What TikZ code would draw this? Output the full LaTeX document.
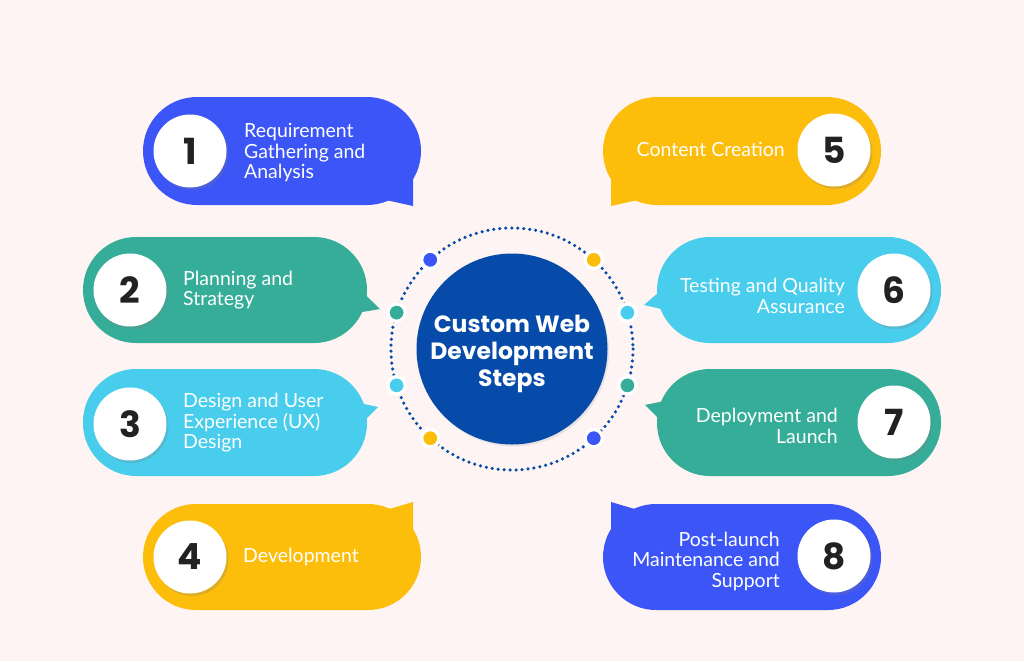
\documentclass[tikz,border=0pt]{standalone}
\usepackage{fontspec}
\setmainfont{Lato}
\newfontfamily\numfont{Poppins}
\usetikzlibrary{shadows,calc}
\definecolor{bgpink}{HTML}{FDF4F3}
\definecolor{stepblue}{HTML}{3B55F6}
\definecolor{stepgreen}{HTML}{35AD99}
\definecolor{stepcyan}{HTML}{48CDEC}
\definecolor{stepyellow}{HTML}{FDBD0B}
\definecolor{centreblue}{HTML}{064BA9}
\definecolor{numcol}{HTML}{222222}
\begin{document}
\begin{tikzpicture}[x=1pt, y=-1pt,
    numcirc/.style={circle, fill=white, minimum size=73pt, inner sep=0pt,
      drop shadow={shadow xshift=2pt, shadow yshift=-2.5pt, opacity=0.25},
      font=\numfont\bfseries\fontsize{36}{36}\selectfont, text=numcol},
    steptext/.style={inner sep=0pt, text=white, font=\fontsize{19.5}{20.5}\selectfont},
    ringdot/.style={circle, fill=#1, draw=white, line width=3.5pt, minimum size=17.5pt,
      inner sep=0pt, drop shadow={shadow xshift=1pt, shadow yshift=-1.5pt, opacity=0.2}}]
    \fill[bgpink] (0,0) rectangle (1024,661);
    % left bubbles
    \fill[stepblue, rounded corners=54] (143,97) rectangle (421,205);
    \fill[stepblue] (413,172) -- (413,206) -- (386,200) -- cycle;
    \fill[stepgreen, rounded corners=53] (83,237) rectangle (367,343);
    \fill[stepgreen] (345,275) -- (380,309) -- (350,314) -- cycle;
    \fill[stepcyan, rounded corners=53] (83,369) rectangle (367,476);
    \fill[stepcyan] (350,401) -- (378,407) -- (345,440) -- cycle;
    \fill[stepyellow, rounded corners=53] (143,504) rectangle (421,610);
    \fill[stepyellow] (413,540) -- (413,502) -- (386,510) -- cycle;
    % right bubbles
    \fill[stepyellow, rounded corners=54] (603,97) rectangle (881,205);
    \fill[stepyellow] (611,172) -- (611,206) -- (638,200) -- cycle;
    \fill[stepcyan, rounded corners=53] (657,237) rectangle (941,343);
    \fill[stepcyan] (679,275) -- (644,305) -- (674,312) -- cycle;
    \fill[stepgreen, rounded corners=53] (657,369) rectangle (941,476);
    \fill[stepgreen] (674,399) -- (645,405) -- (680,440) -- cycle;
    \fill[stepblue, rounded corners=53] (603,504) rectangle (881,610);
    \fill[stepblue] (611,540) -- (611,502) -- (638,510) -- cycle;
    % numbers
    \node[numcirc] (n1) at (190,151) {1};
    \node[numcirc] (n2) at (130,290) {2};
    \node[numcirc] (n3) at (130,424) {3};
    \node[numcirc] (n4) at (190,557) {4};
    \node[numcirc] (n5) at (834,150) {5};
    \node[numcirc] (n6) at (894,290) {6};
    \node[numcirc] (n7) at (894,422) {7};
    \node[numcirc] (n8) at (834,556) {8};
    % step texts
    \node[steptext, anchor=west, align=left] (t1) at (244,153) {Requirement\\Gathering and\\Analysis};
    \node[steptext, anchor=west, align=left] (t2) at (183,290) {Planning and\\Strategy};
    \node[steptext, anchor=west, align=left] (t3) at (183,423) {Design and User\\Experience (UX)\\Design};
    \node[steptext, anchor=west, align=left] (t4) at (243,557) {Development};
    \node[steptext, anchor=east, align=right] (t5) at (785,149) {Content Creation};
    \node[steptext, anchor=east, align=right] (t6) at (845,296) {Testing and Quality\\Assurance};
    \node[steptext, anchor=east, align=right] (t7) at (838,426) {Deployment and\\Launch};
    \node[steptext, anchor=east, align=right] (t8) at (780,561) {Post-launch\\Maintenance and\\Support};
    % centre
    \coordinate (ctr) at (512,349);
    \draw[centreblue, line width=3.5pt, line cap=round, dash pattern=on 0pt off 6pt] (ctr) circle[radius=121];
    \node[circle, fill=centreblue, minimum size=191pt, inner sep=0pt,
      drop shadow={shadow xshift=1.5pt, shadow yshift=-2pt, opacity=0.15}] (centre) at (ctr) {};
    \node[align=center, text=white, inner sep=0pt,
      font=\numfont\bfseries\fontsize{23.5}{27}\selectfont] (title) at (512,354) {Custom Web\\Development\\Steps};
    \foreach \ang/\col [count=\i] in {-132.5/stepblue, -162.5/stepgreen, 162.5/stepcyan, 132.5/stepyellow,
        -47.5/stepyellow, -17.5/stepcyan, 17.5/stepgreen, 47.5/stepblue}
      \node[ringdot=\col] (dot\i) at ($(ctr)+(\ang:121)$) {};
\end{tikzpicture}
\end{document}
